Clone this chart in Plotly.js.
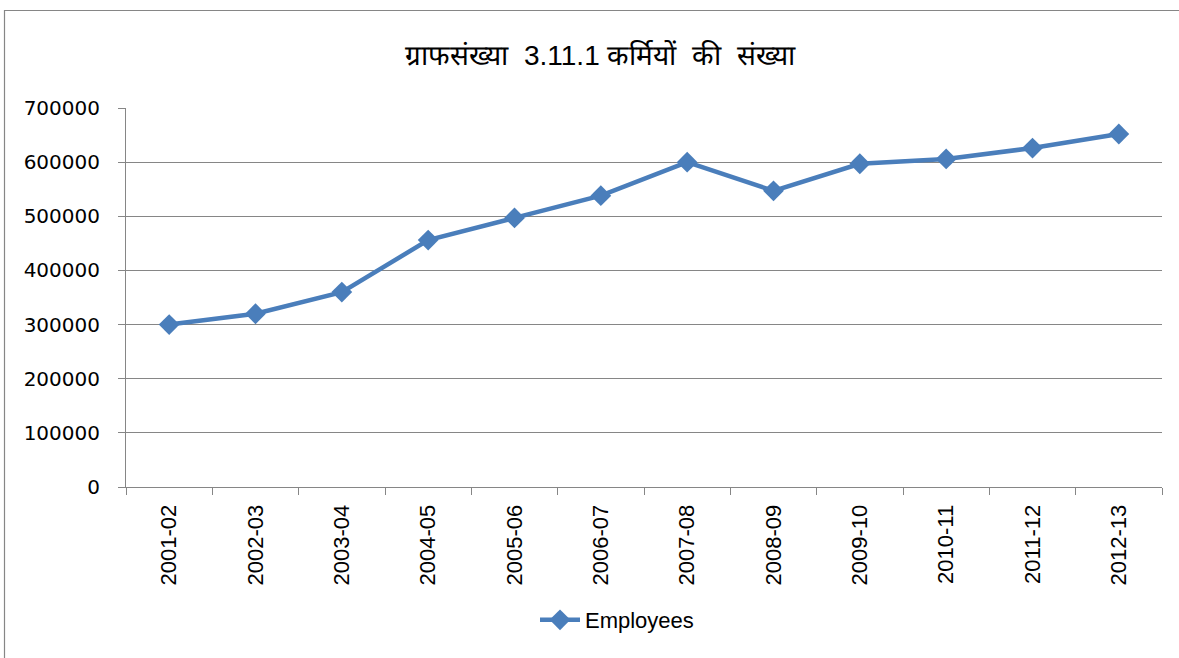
<!DOCTYPE html>
<html>
<head>
<meta charset="utf-8">
<script src="https://cdn.plot.ly/plotly-3.0.1.min.js"></script>
<style>html,body{margin:0;padding:0;background:#fff;}#chart{width:1179px;height:658px;}</style>
</head>
<body>
<div id="chart"></div>
<script>
const years = ["2001-02","2002-03","2003-04","2004-05","2005-06","2006-07","2007-08","2008-09","2009-10","2010-11","2011-12","2012-13"];
const employees = [300000,320000,360000,456000,497000,538000,600000,547000,597000,606000,626000,652000];
const yTicks = [0,100000,200000,300000,400000,500000,600000,700000];
const seriesName = "Employees";
const titleText = "ग्राफसंख्या  3.11.1 कर्मियों  की  संख्या";

const L = 126, R = 1162, T = 108, B = 487, W = 1179, H = 658;
const pw = R - L, ph = B - T;
const px = v => (v - L) / pw;
const py = v => (B - v) / ph;

const trace = {
  type: "scatter", mode: "lines+markers", name: seriesName,
  x: years, y: employees,
  line: {color: "#4A7EBB", width: 4.5},
  marker: {symbol: "diamond", size: 16, color: "#4A7EBB"}
};

const layout = {
  width: W, height: H,
  margin: {l: L, r: W - R, t: T, b: H - B, pad: 0},
  paper_bgcolor: "#ffffff", plot_bgcolor: "#ffffff",
  title: {text: titleText, x: 600 / W, xanchor: "center", y: 1 - 55 / H, yanchor: "middle", yref: "container",
          font: {family: "Liberation Sans, Arial, sans-serif", size: 28, color: "#000", weight: "normal"}},
  xaxis: {
    type: "category", range: [-0.5, 11.5], tickson: "boundaries",
    ticks: "outside", ticklen: 7, tickcolor: "#868686", tickwidth: 1,
    showline: true, linecolor: "#868686", linewidth: 1,
    showgrid: false, tickangle: -90, ticklabelstandoff: 8,
    tickfont: {family: "Liberation Sans, Arial, sans-serif", size: 22, color: "#000"}
  },
  yaxis: {
    range: [0, 700000], tickvals: yTicks, ticktext: yTicks.map(String),
    ticks: "outside", ticklen: 7, tickcolor: "#868686", tickwidth: 1,
    showline: true, linecolor: "#868686", linewidth: 1,
    showgrid: true, gridcolor: "#868686", gridwidth: 1, zeroline: false,
    ticklabelstandoff: 14,
    tickfont: {family: "DejaVu Sans, sans-serif", size: 20, color: "#000"}
  },
  showlegend: true,
  legend: {orientation: "h", x: px(617), xanchor: "center", y: py(620), yanchor: "middle",
           font: {family: "Liberation Sans, Arial, sans-serif", size: 22, color: "#000"}, itemwidth: 40},
  shapes: [{type: "rect", xref: "paper", yref: "paper",
            x0: px(4.5), x1: px(1200), y0: py(10.5), y1: py(700),
            line: {color: "#868686", width: 1.2}, fillcolor: "rgba(0,0,0,0)", layer: "below"}]
};

Plotly.newPlot("chart", [trace], layout, {displayModeBar: false, staticPlot: true});
</script>
</body>
</html>
